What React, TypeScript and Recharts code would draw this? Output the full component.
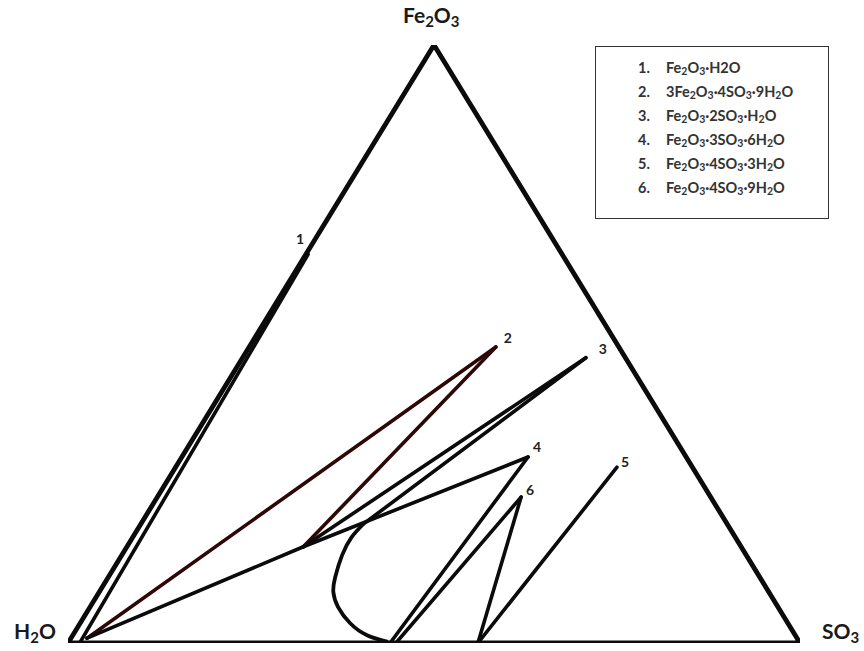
import React from 'react';
import { ComposedChart, Line, XAxis, YAxis, ReferenceDot } from 'recharts';

// compositions in wt %, H2O is whatever is left over
type Comp = { so3: number; fe: number };

const corners: Comp[] = [
  { so3: 0, fe: 0 },
  { so3: 100, fe: 0 },
  { so3: 0, fe: 100 },
  { so3: 0, fe: 0 },
];

const phaseIds = ['1', '2', '3', '4', '5', '6'];
const phases: Comp[] = [
  { so3: 0.3, fe: 65 },
  { so3: 33.7, fe: 49.5 },
  { so3: 46.9, fe: 47.7 },
  { so3: 47.3, fe: 31.1 },
  { so3: 60.3, fe: 29.4 },
  { so3: 49.7, fe: 24.4 },
];
const phaseNames: [string, string][][] = [
  [['Fe', ''], ['2', 's'], ['O', ''], ['3', 's'], ['·H2O', '']],
  [['3Fe', ''], ['2', 's'], ['O', ''], ['3', 's'], ['·4SO', ''], ['3', 's'], ['·9H', ''], ['2', 's'], ['O', '']],
  [['Fe', ''], ['2', 's'], ['O', ''], ['3', 's'], ['·2SO', ''], ['3', 's'], ['·H', ''], ['2', 's'], ['O', '']],
  [['Fe', ''], ['2', 's'], ['O', ''], ['3', 's'], ['·3SO', ''], ['3', 's'], ['·6H', ''], ['2', 's'], ['O', '']],
  [['Fe', ''], ['2', 's'], ['O', ''], ['3', 's'], ['·4SO', ''], ['3', 's'], ['·3H', ''], ['2', 's'], ['O', '']],
  [['Fe', ''], ['2', 's'], ['O', ''], ['3', 's'], ['·4SO', ''], ['3', 's'], ['·9H', ''], ['2', 's'], ['O', '']],
];

// liquid points
const nearWater: Comp = { so3: 2.2, fe: 0.8 };
const line1Start: Comp = { so3: 1.6, fe: 0 };
const invariant: Comp = { so3: 24.1, fe: 16.1 };
const curveTop: Comp = { so3: 30.4, fe: 19.9 };
const baseA: Comp = { so3: 44.0, fe: 0 };
const baseA2: Comp = { so3: 44.8, fe: 0 };
const baseB: Comp = { so3: 56.0, fe: 0 };

const solubilityCurve: Comp[] = [
  { so3: 30.4, fe: 19.9 },
  { so3: 29.9, fe: 17.7 },
  { so3: 30.1, fe: 14.7 },
  { so3: 31.0, fe: 11.0 },
  { so3: 32.0, fe: 8.5 },
  { so3: 33.9, fe: 6.0 },
  { so3: 36.9, fe: 3.3 },
  { so3: 40.2, fe: 1.3 },
  { so3: 43.6, fe: 0.2 },
];

const DARK = '#0b0b0b';
const RED = '#2e0707';

const tieLines: { pts: Comp[]; color: string }[] = [
  { pts: [line1Start, phases[0]], color: DARK },
  { pts: [nearWater, phases[1]], color: RED },
  { pts: [nearWater, invariant], color: DARK },
  { pts: [invariant, phases[1]], color: RED },
  { pts: [invariant, phases[2]], color: DARK },
  { pts: [curveTop, phases[2]], color: DARK },
  { pts: [invariant, phases[3]], color: DARK },
  { pts: [baseA, phases[3]], color: DARK },
  { pts: [baseA2, phases[5]], color: DARK },
  { pts: [phases[5], baseB], color: DARK },
  { pts: [baseB, phases[4]], color: DARK },
];

// label offsets next to each phase point
const labelOffsets = [
  [-8, -10],
  [12, -4],
  [17, -4],
  [9, -5],
  [8, 0],
  [9, -2],
];

const toXY = (c: Comp) => ({ x: c.so3 + c.fe / 2, y: c.fe });

const FONT = 'Lato, "Open Sans", sans-serif';

function Formula({ parts, size, sub }: { parts: [string, string][]; size: number; sub: number }) {
  return (
    <>
      {parts.map(([t, k], i) =>
        k === 's' ? (
          <span key={i} style={{ fontSize: sub, verticalAlign: -2 }}>{t}</span>
        ) : (
          <span key={i} style={{ fontSize: size }}>{t}</span>
        )
      )}
    </>
  );
}

function CornerLabel(props: any, parts: [string, boolean][], dx: number, dy: number) {
  const { cx, cy } = props;
  let shift = 0;
  return (
    <text x={cx + dx} y={cy + dy} fontFamily={FONT} fontWeight={700} fontSize={21} fill="#1a1a1a">
      {parts.map(([t, isSub], i) => {
        const d = isSub ? 4 - shift : -shift;
        shift = isSub ? 4 : 0;
        return (
          <tspan key={i} dy={d} fontSize={isSub ? 15 : 21}>{t}</tspan>
        );
      })}
    </text>
  );
}

export default function App() {
  return (
    <div style={{ position: 'absolute', left: 0, top: 0, width: 864, height: 651, background: '#fff' }}>
      <ComposedChart
        width={864}
        height={651}
        margin={{ top: 45, left: 68, right: 64, bottom: 8 }}
      >
        <XAxis dataKey="x" type="number" domain={[0, 100]} hide allowDataOverflow />
        <YAxis type="number" domain={[0, 100]} hide allowDataOverflow />

        <Line
          data={corners.map(toXY)}
          dataKey="y"
          type="linear"
          stroke={DARK}
          strokeWidth={4.8}
          strokeLinejoin="miter"
          dot={false}
          activeDot={false}
          isAnimationActive={false}
        />
        {tieLines.map((l, i) => (
          <Line
            key={i}
            data={l.pts.map(toXY)}
            dataKey="y"
            type="linear"
            stroke={l.color}
            strokeWidth={3.6}
            strokeLinecap="round"
            dot={false}
            activeDot={false}
            isAnimationActive={false}
          />
        ))}
        <Line
          data={solubilityCurve.map(toXY)}
          dataKey="y"
          type="natural"
          stroke={DARK}
          strokeWidth={3.8}
          dot={false}
          activeDot={false}
          isAnimationActive={false}
        />

        {phases.map((p, i) => {
          const { x, y } = toXY(p);
          const [dx, dy] = labelOffsets[i];
          return (
            <ReferenceDot
              key={phaseIds[i]}
              x={x}
              y={y}
              r={0}
              shape={(props: any) => (
                <text
                  x={props.cx + dx}
                  y={props.cy + dy}
                  textAnchor="middle"
                  fontFamily={FONT}
                  fontWeight={700}
                  fontSize={14}
                  fill="#222"
                >
                  {phaseIds[i]}
                </text>
              )}
            />
          );
        })}

        <ReferenceDot
          x={50}
          y={100}
          r={0}
          ifOverflow="visible"
          shape={(p: any) => CornerLabel(p, [['Fe', false], ['2', true], ['O', false], ['3', true]], -31, -22)}
        />
        <ReferenceDot
          x={0}
          y={0}
          r={0}
          ifOverflow="visible"
          shape={(p: any) => CornerLabel(p, [['H', false], ['2', true], ['O', false]], -54, -4)}
        />
        <ReferenceDot
          x={100}
          y={0}
          r={0}
          ifOverflow="visible"
          shape={(p: any) => CornerLabel(p, [['SO', false], ['3', true]], 22, -4)}
        />
      </ComposedChart>

      <div
        style={{
          position: 'absolute',
          left: 595,
          top: 46,
          width: 232,
          height: 171,
          border: '1.5px solid #333',
          fontFamily: FONT,
          fontWeight: 700,
          color: '#333',
        }}
      >
        {phaseNames.map((parts, i) => (
          <div
            key={i}
            style={{ position: 'absolute', left: 42, top: 11 + i * 24, whiteSpace: 'nowrap', lineHeight: '18px' }}
          >
            <span style={{ display: 'inline-block', width: 28, fontSize: 14.5 }}>{phaseIds[i]}.</span>
            <Formula parts={parts} size={14.5} sub={10.5} />
          </div>
        ))}
      </div>
    </div>
  );
}
